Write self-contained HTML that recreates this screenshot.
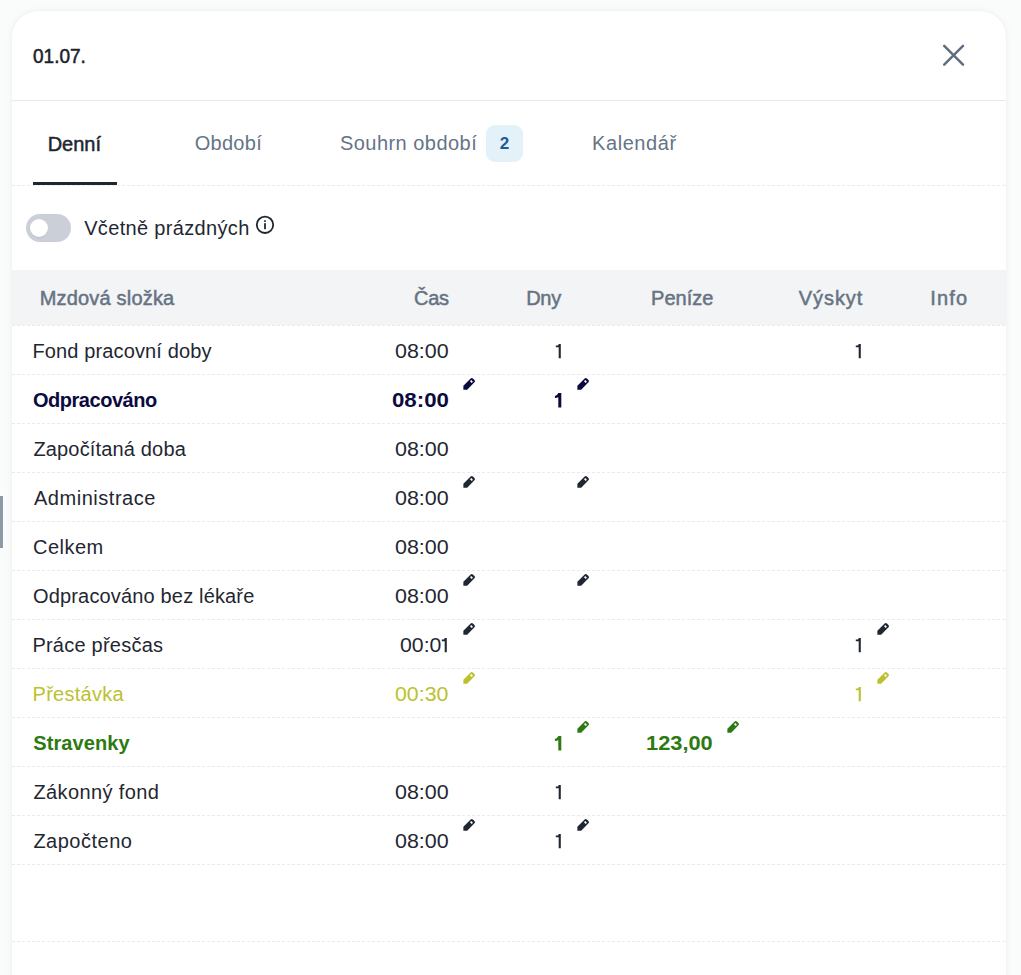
<!DOCTYPE html>
<html><head><meta charset="utf-8">
<style>
*{box-sizing:border-box;margin:0;padding:0}
html,body{width:1021px;height:975px;overflow:hidden;background:#fafbfb;font-family:"Liberation Sans",sans-serif;color:#1f2732}
.card{position:absolute;left:12px;top:11px;width:994px;height:1100px;background:#fff;border-radius:26px;box-shadow:0 0 10px rgba(20,30,40,0.045),0 0 2px rgba(20,30,40,0.06)}
.hline{position:absolute;left:12px;width:994px;height:1px;background:#e6e8eb}
.dline{position:absolute;left:12px;width:994px;height:1px;background:repeating-linear-gradient(90deg,#e8eaed 0 3px,transparent 3px 5px)}
</style></head><body>
<div class="card"></div>
<svg style="position:absolute;left:940px;top:42px" width="28" height="28" viewBox="0 0 28 28"><path d="M4.2 3.9 L23 22.6 M23 3.9 L4.2 22.6" stroke="#5f6e7e" stroke-width="2.5" stroke-linecap="round" fill="none"/></svg>
<div class="hline" style="top:100px"></div>
<div style="position:absolute;left:486px;top:125px;width:37px;height:37px;border-radius:9px;background:#e3f1f9;color:#1f5a94;font-weight:700;font-size:17px;line-height:37px;text-align:center">2</div>
<div class="dline" style="top:185px"></div>
<div style="position:absolute;left:33px;top:182px;width:84px;height:3px;background:#1f2732"></div>
<div style="position:absolute;left:26px;top:214px;width:45px;height:28px;border-radius:14px;background:#cbd0d8"><div style="position:absolute;left:4px;top:5.2px;width:18px;height:18px;border-radius:50%;background:#fff;box-shadow:0 1px 1px rgba(0,0,0,0.08)"></div></div>
<svg style="position:absolute;left:255px;top:215px" width="20" height="20" viewBox="0 0 20 20"><circle cx="10" cy="9.8" r="8.2" stroke="#1f2732" stroke-width="1.8" fill="none"/><rect x="9.1" y="8.2" width="1.8" height="6" fill="#1f2732"/><rect x="9.1" y="5.3" width="1.8" height="1.6" fill="#1f2732"/></svg>
<div style="position:absolute;left:12px;top:270px;width:994px;height:55px;background:#f3f4f6"></div>
<div class="dline" style="top:325px"></div>

<div class="dline" style="top:374px"></div>
<div class="dline" style="top:423px"></div>
<div class="dline" style="top:472px"></div>
<div class="dline" style="top:521px"></div>
<div class="dline" style="top:570px"></div>
<div class="dline" style="top:619px"></div>
<div class="dline" style="top:668px"></div>
<div class="dline" style="top:717px"></div>
<div class="dline" style="top:766px"></div>
<div class="dline" style="top:815px"></div>
<div class="dline" style="top:864px"></div>
<div class="dline" style="top:941px"></div>
<div style="position:absolute;left:0;top:495px;width:4px;height:54px;background:#fff"></div><div style="position:absolute;left:0;top:496px;width:3px;height:52px;background:#8e99a6"></div>
<div style="position:absolute;left:32.67px;top:43.75px;font-size:20px;line-height:24px;font-weight:400;-webkit-text-stroke:0.5px #1c222b;color:#1c222b;letter-spacing:0.000px;white-space:nowrap;transform:scaleX(0.9514);transform-origin:0 0;">01.07.</div>
<div style="position:absolute;left:47.65px;top:131.50px;font-size:20px;line-height:24px;font-weight:400;-webkit-text-stroke:0.5px #1f2732;color:#1f2732;letter-spacing:0.000px;white-space:nowrap;">Denní</div>
<div style="position:absolute;left:194.74px;top:131.39px;font-size:20px;line-height:24px;font-weight:400;color:#657487;letter-spacing:0.269px;white-space:nowrap;">Období</div>
<div style="position:absolute;left:339.91px;top:131.46px;font-size:20px;line-height:24px;font-weight:400;color:#657487;letter-spacing:0.464px;white-space:nowrap;">Souhrn období</div>
<div style="position:absolute;left:592.01px;top:131.46px;font-size:20px;line-height:24px;font-weight:400;color:#657487;letter-spacing:0.586px;white-space:nowrap;">Kalendář</div>
<div style="position:absolute;left:84.20px;top:216.00px;font-size:20px;line-height:24px;font-weight:400;color:#1f2732;letter-spacing:0.333px;white-space:nowrap;">Včetně prázdných</div>
<div style="position:absolute;left:39.66px;top:286.00px;font-size:20px;line-height:24px;font-weight:400;-webkit-text-stroke:0.5px #667382;color:#667382;letter-spacing:0.192px;white-space:nowrap;">Mzdová složka</div>
<div style="position:absolute;left:414.00px;top:286.00px;font-size:20px;line-height:24px;font-weight:400;-webkit-text-stroke:0.5px #667382;color:#667382;letter-spacing:-0.256px;white-space:nowrap;">Čas</div>
<div style="position:absolute;left:526.20px;top:286.00px;font-size:20px;line-height:24px;font-weight:400;-webkit-text-stroke:0.5px #667382;color:#667382;letter-spacing:-0.279px;white-space:nowrap;">Dny</div>
<div style="position:absolute;left:651.12px;top:286.00px;font-size:20px;line-height:24px;font-weight:400;-webkit-text-stroke:0.5px #667382;color:#667382;letter-spacing:0.000px;white-space:nowrap;">Peníze</div>
<div style="position:absolute;left:798.82px;top:286.00px;font-size:20px;line-height:24px;font-weight:400;-webkit-text-stroke:0.5px #667382;color:#667382;letter-spacing:0.926px;white-space:nowrap;">Výskyt</div>
<div style="position:absolute;left:930.27px;top:286.00px;font-size:20px;line-height:24px;font-weight:400;-webkit-text-stroke:0.5px #667382;color:#667382;letter-spacing:1.127px;white-space:nowrap;">Info</div>
<div style="position:absolute;left:32.40px;top:338.98px;font-size:20px;line-height:24px;font-weight:400;color:#1f2732;letter-spacing:0.135px;white-space:nowrap;">Fond pracovní doby</div>
<div style="position:absolute;left:33.00px;top:388.00px;font-size:20px;line-height:24px;font-weight:700;color:#0b0a3e;letter-spacing:-0.475px;white-space:nowrap;">Odpracováno</div>
<div style="position:absolute;left:33.40px;top:436.98px;font-size:20px;line-height:24px;font-weight:400;color:#1f2732;letter-spacing:0.164px;white-space:nowrap;">Započítaná doba</div>
<div style="position:absolute;left:34.00px;top:485.98px;font-size:20px;line-height:24px;font-weight:400;color:#1f2732;letter-spacing:0.527px;white-space:nowrap;">Administrace</div>
<div style="position:absolute;left:33.00px;top:534.98px;font-size:20px;line-height:24px;font-weight:400;color:#1f2732;letter-spacing:0.480px;white-space:nowrap;">Celkem</div>
<div style="position:absolute;left:33.00px;top:583.98px;font-size:20px;line-height:24px;font-weight:400;color:#1f2732;letter-spacing:0.162px;white-space:nowrap;">Odpracováno bez lékaře</div>
<div style="position:absolute;left:32.40px;top:632.98px;font-size:20px;line-height:24px;font-weight:400;color:#1f2732;letter-spacing:0.237px;white-space:nowrap;">Práce přesčas</div>
<div style="position:absolute;left:32.56px;top:681.99px;font-size:20px;line-height:24px;font-weight:400;color:#bcc12e;letter-spacing:0.275px;white-space:nowrap;">Přestávka</div>
<div style="position:absolute;left:33.33px;top:731.00px;font-size:20px;line-height:24px;font-weight:700;color:#2e7a12;letter-spacing:0.075px;white-space:nowrap;">Stravenky</div>
<div style="position:absolute;left:33.40px;top:779.98px;font-size:20px;line-height:24px;font-weight:400;color:#1f2732;letter-spacing:0.382px;white-space:nowrap;">Zákonný fond</div>
<div style="position:absolute;left:33.40px;top:828.98px;font-size:20px;line-height:24px;font-weight:400;color:#1f2732;letter-spacing:0.506px;white-space:nowrap;">Započteno</div>
<div style="position:absolute;left:395.00px;top:338.98px;font-size:20px;line-height:24px;font-weight:400;color:#1f2732;letter-spacing:0.000px;white-space:nowrap;transform:scaleX(1.0723);transform-origin:0 0;">08:00</div>
<div style="position:absolute;left:392.00px;top:388.00px;font-size:20px;line-height:24px;font-weight:700;color:#0b0a3e;letter-spacing:0.000px;white-space:nowrap;transform:scaleX(1.1125);transform-origin:0 0;">08:00</div>
<div style="position:absolute;left:395.00px;top:436.98px;font-size:20px;line-height:24px;font-weight:400;color:#1f2732;letter-spacing:0.000px;white-space:nowrap;transform:scaleX(1.0723);transform-origin:0 0;">08:00</div>
<div style="position:absolute;left:395.00px;top:485.98px;font-size:20px;line-height:24px;font-weight:400;color:#1f2732;letter-spacing:0.000px;white-space:nowrap;transform:scaleX(1.0723);transform-origin:0 0;">08:00</div>
<div style="position:absolute;left:395.00px;top:534.98px;font-size:20px;line-height:24px;font-weight:400;color:#1f2732;letter-spacing:0.000px;white-space:nowrap;transform:scaleX(1.0723);transform-origin:0 0;">08:00</div>
<div style="position:absolute;left:395.00px;top:583.98px;font-size:20px;line-height:24px;font-weight:400;color:#1f2732;letter-spacing:0.000px;white-space:nowrap;transform:scaleX(1.0723);transform-origin:0 0;">08:00</div>
<div style="position:absolute;left:399.68px;top:632.98px;font-size:20px;line-height:24px;font-weight:400;color:#1f2732;letter-spacing:0.000px;white-space:nowrap;transform:scaleX(1.0621);transform-origin:0 0;">00:0</div>
<div style="position:absolute;left:395.17px;top:681.99px;font-size:20px;line-height:24px;font-weight:400;color:#bcc12e;letter-spacing:0.000px;white-space:nowrap;transform:scaleX(1.0658);transform-origin:0 0;">00:30</div>
<div style="position:absolute;left:646.18px;top:731.00px;font-size:20px;line-height:24px;font-weight:700;color:#2e7a12;letter-spacing:0.000px;white-space:nowrap;transform:scaleX(1.0904);transform-origin:0 0;">123,00</div>
<div style="position:absolute;left:395.00px;top:779.98px;font-size:20px;line-height:24px;font-weight:400;color:#1f2732;letter-spacing:0.000px;white-space:nowrap;transform:scaleX(1.0723);transform-origin:0 0;">08:00</div>
<div style="position:absolute;left:395.00px;top:828.98px;font-size:20px;line-height:24px;font-weight:400;color:#1f2732;letter-spacing:0.000px;white-space:nowrap;transform:scaleX(1.0723);transform-origin:0 0;">08:00</div>
<svg style="position:absolute;left:555.0px;top:343.6px" width="6" height="15" viewBox="0 0 6 15"><path fill="#1f2732" d="M3.7 0H5.8V14.3H3.7V3.3H0.8V1.6H2.2Q3.5 1.5 3.7 0Z"/></svg>
<svg style="position:absolute;left:855.4px;top:343.6px" width="6" height="15" viewBox="0 0 6 15"><path fill="#1f2732" d="M3.7 0H5.8V14.3H3.7V3.3H0.8V1.6H2.2Q3.5 1.5 3.7 0Z"/></svg>
<svg style="position:absolute;left:553.7px;top:392.6px" width="8" height="15" viewBox="0 0 8 15"><path fill="#0b0a3e" d="M4.3 0H7.3V14.5H4.3V4.2Q2.9 4.7 0.9 4.9V2.9Q3.3 2.5 4.3 0Z"/></svg>
<svg style="position:absolute;left:441.1px;top:637.6px" width="6" height="15" viewBox="0 0 6 15"><path fill="#1f2732" d="M3.7 0H5.8V14.3H3.7V3.3H0.8V1.6H2.2Q3.5 1.5 3.7 0Z"/></svg>
<svg style="position:absolute;left:855.4px;top:637.6px" width="6" height="15" viewBox="0 0 6 15"><path fill="#1f2732" d="M3.7 0H5.8V14.3H3.7V3.3H0.8V1.6H2.2Q3.5 1.5 3.7 0Z"/></svg>
<svg style="position:absolute;left:855.4px;top:686.6px" width="6" height="15" viewBox="0 0 6 15"><path fill="#bcc12e" d="M3.7 0H5.8V14.3H3.7V3.3H0.8V1.6H2.2Q3.5 1.5 3.7 0Z"/></svg>
<svg style="position:absolute;left:553.7px;top:735.6px" width="8" height="15" viewBox="0 0 8 15"><path fill="#2e7a12" d="M4.3 0H7.3V14.5H4.3V4.2Q2.9 4.7 0.9 4.9V2.9Q3.3 2.5 4.3 0Z"/></svg>
<svg style="position:absolute;left:555.0px;top:784.6px" width="6" height="15" viewBox="0 0 6 15"><path fill="#1f2732" d="M3.7 0H5.8V14.3H3.7V3.3H0.8V1.6H2.2Q3.5 1.5 3.7 0Z"/></svg>
<svg style="position:absolute;left:555.0px;top:833.6px" width="6" height="15" viewBox="0 0 6 15"><path fill="#1f2732" d="M3.7 0H5.8V14.3H3.7V3.3H0.8V1.6H2.2Q3.5 1.5 3.7 0Z"/></svg>
<svg style="position:absolute;left:460.0px;top:374.7px" width="18" height="18" viewBox="0 0 18 18"><g transform="translate(9.1 8.9) rotate(-45)"><path fill="#0b0a3e" d="M-8.1 0L-5.4-2.7H4.9Q6.5-2.7 6.5-1.1V1.1Q6.5 2.7 4.9 2.7H-5.4Z"/><rect x="2.5" y="-1.2" width="1.7" height="2.4" fill="#fff"/></g></svg>
<svg style="position:absolute;left:574.0px;top:374.7px" width="18" height="18" viewBox="0 0 18 18"><g transform="translate(9.1 8.9) rotate(-45)"><path fill="#0b0a3e" d="M-8.1 0L-5.4-2.7H4.9Q6.5-2.7 6.5-1.1V1.1Q6.5 2.7 4.9 2.7H-5.4Z"/><rect x="2.5" y="-1.2" width="1.7" height="2.4" fill="#fff"/></g></svg>
<svg style="position:absolute;left:460.0px;top:472.7px" width="18" height="18" viewBox="0 0 18 18"><g transform="translate(9.1 8.9) rotate(-45)"><path fill="#1f2732" d="M-8.1 0L-5.4-2.7H4.9Q6.5-2.7 6.5-1.1V1.1Q6.5 2.7 4.9 2.7H-5.4Z"/><rect x="2.5" y="-1.2" width="1.7" height="2.4" fill="#fff"/></g></svg>
<svg style="position:absolute;left:574.0px;top:472.7px" width="18" height="18" viewBox="0 0 18 18"><g transform="translate(9.1 8.9) rotate(-45)"><path fill="#1f2732" d="M-8.1 0L-5.4-2.7H4.9Q6.5-2.7 6.5-1.1V1.1Q6.5 2.7 4.9 2.7H-5.4Z"/><rect x="2.5" y="-1.2" width="1.7" height="2.4" fill="#fff"/></g></svg>
<svg style="position:absolute;left:460.0px;top:570.7px" width="18" height="18" viewBox="0 0 18 18"><g transform="translate(9.1 8.9) rotate(-45)"><path fill="#1f2732" d="M-8.1 0L-5.4-2.7H4.9Q6.5-2.7 6.5-1.1V1.1Q6.5 2.7 4.9 2.7H-5.4Z"/><rect x="2.5" y="-1.2" width="1.7" height="2.4" fill="#fff"/></g></svg>
<svg style="position:absolute;left:574.0px;top:570.7px" width="18" height="18" viewBox="0 0 18 18"><g transform="translate(9.1 8.9) rotate(-45)"><path fill="#1f2732" d="M-8.1 0L-5.4-2.7H4.9Q6.5-2.7 6.5-1.1V1.1Q6.5 2.7 4.9 2.7H-5.4Z"/><rect x="2.5" y="-1.2" width="1.7" height="2.4" fill="#fff"/></g></svg>
<svg style="position:absolute;left:460.0px;top:619.7px" width="18" height="18" viewBox="0 0 18 18"><g transform="translate(9.1 8.9) rotate(-45)"><path fill="#1f2732" d="M-8.1 0L-5.4-2.7H4.9Q6.5-2.7 6.5-1.1V1.1Q6.5 2.7 4.9 2.7H-5.4Z"/><rect x="2.5" y="-1.2" width="1.7" height="2.4" fill="#fff"/></g></svg>
<svg style="position:absolute;left:874.0px;top:619.7px" width="18" height="18" viewBox="0 0 18 18"><g transform="translate(9.1 8.9) rotate(-45)"><path fill="#1f2732" d="M-8.1 0L-5.4-2.7H4.9Q6.5-2.7 6.5-1.1V1.1Q6.5 2.7 4.9 2.7H-5.4Z"/><rect x="2.5" y="-1.2" width="1.7" height="2.4" fill="#fff"/></g></svg>
<svg style="position:absolute;left:460.0px;top:668.7px" width="18" height="18" viewBox="0 0 18 18"><g transform="translate(9.1 8.9) rotate(-45)"><path fill="#bcc12e" d="M-8.1 0L-5.4-2.7H4.9Q6.5-2.7 6.5-1.1V1.1Q6.5 2.7 4.9 2.7H-5.4Z"/><rect x="2.5" y="-1.2" width="1.7" height="2.4" fill="#fff"/></g></svg>
<svg style="position:absolute;left:874.0px;top:668.7px" width="18" height="18" viewBox="0 0 18 18"><g transform="translate(9.1 8.9) rotate(-45)"><path fill="#bcc12e" d="M-8.1 0L-5.4-2.7H4.9Q6.5-2.7 6.5-1.1V1.1Q6.5 2.7 4.9 2.7H-5.4Z"/><rect x="2.5" y="-1.2" width="1.7" height="2.4" fill="#fff"/></g></svg>
<svg style="position:absolute;left:574.0px;top:717.7px" width="18" height="18" viewBox="0 0 18 18"><g transform="translate(9.1 8.9) rotate(-45)"><path fill="#2e7a12" d="M-8.1 0L-5.4-2.7H4.9Q6.5-2.7 6.5-1.1V1.1Q6.5 2.7 4.9 2.7H-5.4Z"/><rect x="2.5" y="-1.2" width="1.7" height="2.4" fill="#fff"/></g></svg>
<svg style="position:absolute;left:723.5px;top:717.7px" width="18" height="18" viewBox="0 0 18 18"><g transform="translate(9.1 8.9) rotate(-45)"><path fill="#2e7a12" d="M-8.1 0L-5.4-2.7H4.9Q6.5-2.7 6.5-1.1V1.1Q6.5 2.7 4.9 2.7H-5.4Z"/><rect x="2.5" y="-1.2" width="1.7" height="2.4" fill="#fff"/></g></svg>
<svg style="position:absolute;left:460.0px;top:815.7px" width="18" height="18" viewBox="0 0 18 18"><g transform="translate(9.1 8.9) rotate(-45)"><path fill="#1f2732" d="M-8.1 0L-5.4-2.7H4.9Q6.5-2.7 6.5-1.1V1.1Q6.5 2.7 4.9 2.7H-5.4Z"/><rect x="2.5" y="-1.2" width="1.7" height="2.4" fill="#fff"/></g></svg>
<svg style="position:absolute;left:574.0px;top:815.7px" width="18" height="18" viewBox="0 0 18 18"><g transform="translate(9.1 8.9) rotate(-45)"><path fill="#1f2732" d="M-8.1 0L-5.4-2.7H4.9Q6.5-2.7 6.5-1.1V1.1Q6.5 2.7 4.9 2.7H-5.4Z"/><rect x="2.5" y="-1.2" width="1.7" height="2.4" fill="#fff"/></g></svg>
</body></html>
